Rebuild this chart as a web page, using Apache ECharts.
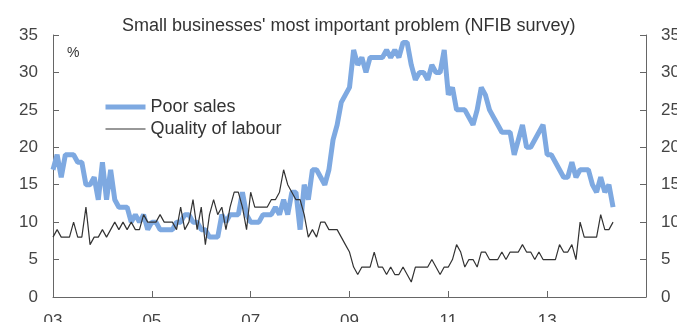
<!DOCTYPE html>
<html>
<head>
<meta charset="utf-8">
<script src="https://cdn.jsdelivr.net/npm/echarts@6/dist/echarts.min.js"></script>
<style>
  html, body { margin: 0; padding: 0; background: #fff; }
  #chart { width: 677px; height: 322px; }
</style>
</head>
<body>
<div id="chart"></div>
<script>
// monthly values, Jan 2003 .. May 2014
const startYear = 2003;
const poorSales = [
  17, 19, 16, 19, 19, 19, 18, 18, 15, 15, 16, 13,
  18, 13, 17, 13, 12, 12, 12, 10, 11, 10, 11, 9,
  10, 10, 9, 9, 9, 9, 10, 10, 11, 11, 10, 10,
  9, 9, 8, 8, 8, 11, 10, 11, 11, 11, 14, 11,
  10, 10, 10, 11, 11, 11, 12, 11, 13, 11, 14, 14,
  9, 15, 13, 17, 17, 16, 15, 17, 21, 23, 26, 27,
  28, 33, 31, 32, 30, 32, 32, 32, 32, 33, 32, 33,
  32, 34, 34, 31, 29, 30, 30, 29, 31, 30, 30, 33,
  27, 28, 25, 25, 25, 24, 23, 25, 28, 27, 25, 24,
  23, 22, 22, 22, 19, 21, 23, 20, 20, 21, 22, 23,
  19, 19, 18, 17, 16, 16, 18, 16, 17, 17, 17, 15,
  14, 16, 14, 15, 12
];
const labourQuality = [
  8, 9, 8, 8, 8, 10, 8, 8, 12, 7, 8, 8,
  9, 8, 9, 10, 9, 10, 9, 10, 9, 9, 11, 10,
  10, 10, 11, 10, 10, 10, 9, 12, 9, 10, 13, 9,
  12, 7, 11, 13, 11, 12, 9, 12, 14, 14, 12, 9,
  14, 12, 12, 12, 12, 13, 13, 14, 17, 15, 14, 13,
  13, 11, 8, 9, 8, 10, 10, 9, 9, 9, 8, 7,
  6, 4, 3, 4, 4, 4, 6, 4, 4, 3, 4, 3,
  3, 4, 3, 2, 4, 4, 4, 4, 5, 4, 3, 4,
  4, 5, 7, 6, 4, 5, 5, 4, 6, 6, 5, 5,
  5, 6, 5, 6, 6, 6, 7, 6, 6, 5, 6, 5,
  5, 5, 5, 7, 6, 6, 7, 5, 10, 8, 8, 8,
  8, 11, 9, 9, 10
];
const yTicks = [0, 5, 10, 15, 20, 25, 30, 35];

const toPoints = arr => arr.map((v, i) => [i, v]);
const labelFont = 'Liberation Sans, Arial, sans-serif';
const blue = '#7ea9e1';

const chart = echarts.init(document.getElementById('chart'), null, { renderer: 'canvas' });

const yAxisBase = {
  type: 'value',
  min: yTicks[0],
  max: yTicks[yTicks.length - 1],
  interval: 5,
  axisLine: { show: true, lineStyle: { color: '#666', width: 1 } },
  axisTick: { show: true, inside: true, length: 6, lineStyle: { color: '#666' } },
  splitLine: { show: false },
  axisLabel: { color: '#444', fontSize: 17, fontFamily: labelFont, margin: 15 }
};

chart.setOption({
  animation: false,
  backgroundColor: '#fff',
  title: {
    text: "Small businesses' most important problem (NFIB survey)",
    left: 122,
    top: 17,
    padding: 0,
    textStyle: { color: '#333', fontSize: 18, fontWeight: 'normal', fontFamily: labelFont }
  },
  grid: { left: 53, right: 31, top: 35, bottom: 25, containLabel: false, outerBoundsMode: 'none' },
  legend: {
    orient: 'vertical',
    left: 103,
    top: 98,
    padding: 0,
    itemWidth: 40,
    itemHeight: 14,
    itemGap: 4,
    itemStyle: { opacity: 0 },
    textStyle: { color: '#333', fontSize: 18, lineHeight: 14, fontFamily: labelFont },
    data: [
      { name: 'Poor sales', lineStyle: { width: 5, color: blue } },
      { name: 'Quality of labour', lineStyle: { width: 1.2, color: '#333' } }
    ]
  },
  graphic: [
    { type: 'text', left: 67, top: 46, style: { text: '%', fill: '#333', font: '14px ' + labelFont } }
  ],
  xAxis: {
    type: 'value',
    min: 0,
    max: 144,
    interval: 24,
    axisLine: { show: true, lineStyle: { color: '#666', width: 1 } },
    axisTick: { show: true, inside: true, length: 6, lineStyle: { color: '#666' } },
    splitLine: { show: false },
    axisLabel: {
      color: '#444', fontSize: 17, fontFamily: labelFont, margin: 16,
      showMaxLabel: false,
      formatter: v => String((startYear + v / 12) % 100).padStart(2, '0')
    }
  },
  yAxis: [
    Object.assign({}, yAxisBase, { position: 'left' }),
    Object.assign({}, yAxisBase, { position: 'right' })
  ],
  series: [
    {
      name: 'Poor sales',
      type: 'line',
      symbol: 'none',
      data: toPoints(poorSales),
      lineStyle: { color: blue, width: 5 },
      itemStyle: { color: blue },
      z: 2
    },
    {
      name: 'Quality of labour',
      type: 'line',
      symbol: 'none',
      data: toPoints(labourQuality),
      lineStyle: { color: '#333', width: 1.2 },
      itemStyle: { color: '#333' },
      z: 3
    }
  ]
});
</script>
</body>
</html>
